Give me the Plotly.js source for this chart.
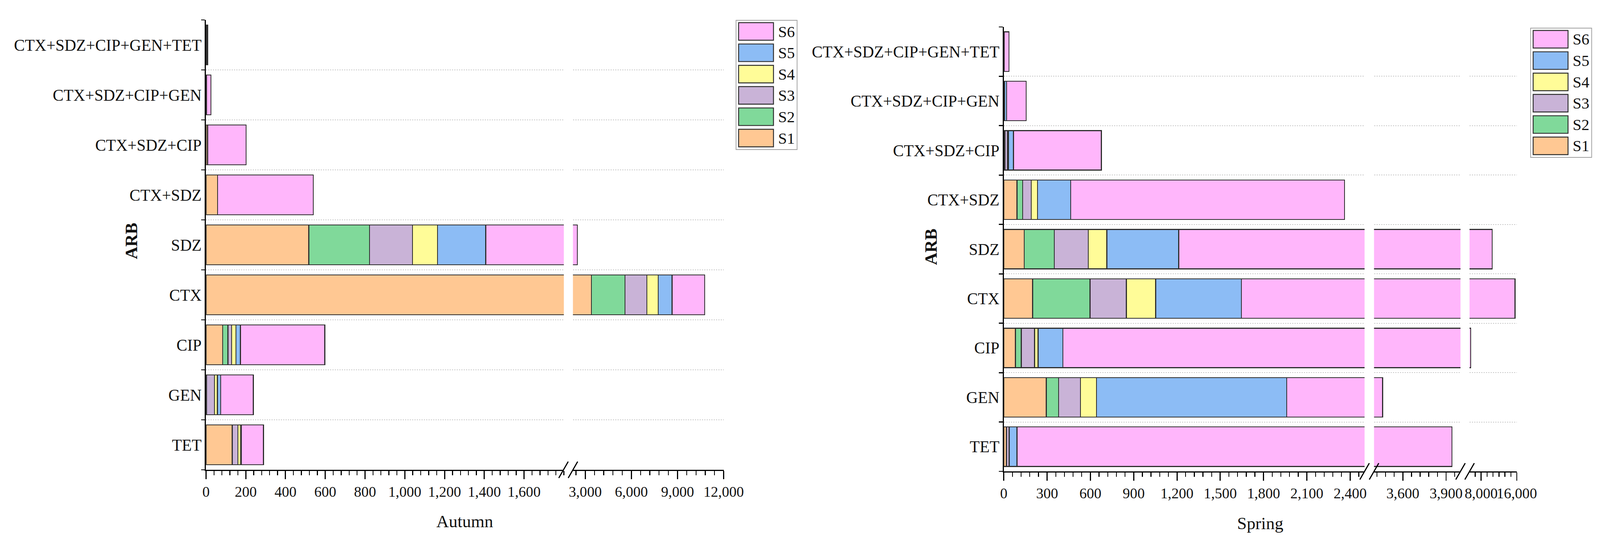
<!DOCTYPE html>
<html>
<head>
<meta charset="utf-8">
<script src="https://cdn.plot.ly/plotly-3.0.1.min.js"></script>
<style>html,body{margin:0;padding:0;background:#fff;overflow:hidden}</style>
</head>
<body>
<div id="chart"></div>
<script>
// reference frame is 4404 x 1393; the figure is stretched over the real viewport
var REF_W = 4404, REF_H = 1393;
var W = document.documentElement.clientWidth || REF_W;
var H = document.documentElement.clientHeight || REF_H;
var s = Math.sqrt((W / REF_W) * (H / REF_H));

// categories, bottom to top
var arb = ['TET', 'GEN', 'CIP', 'CTX', 'SDZ', 'CTX+SDZ', 'CTX+SDZ+CIP',
           'CTX+SDZ+CIP+GEN', 'CTX+SDZ+CIP+GEN+TET'];
var seriesNames = ['S1', 'S2', 'S3', 'S4', 'S5', 'S6'];
var seriesColors = ['#ffc893', '#80d99a', '#c9b3d7', '#fffc98', '#8cbcf5', '#ffb6fb'];

// Autumn
var autumnS1 = [131, 0, 84, 3400, 517, 58, 8, 2, 2];
var autumnS2 = [2, 2, 26, 2180, 306, 0, 0, 0, 0];
var autumnS3 = [28, 40, 19, 1420, 216, 0, 0, 0, 1];
var autumnS4 = [14, 15, 22, 740, 126, 0, 0, 0, 1];
var autumnS5 = [3, 17, 22, 900, 242, 0, 0, 1, 1];
var autumnS6 = [111, 164, 425, 2130, 1073, 482, 194, 22, 3];

// Spring
var springS1 = [17, 294, 80, 200, 141, 91, 4, 2, 1];
var springS2 = [3, 85, 41, 397, 209, 39, 3, 1, 1];
var springS3 = [16, 152, 92, 252, 236, 60, 19, 1, 1];
var springS4 = [2, 111, 24, 203, 128, 43, 6, 1, 0];
var springS5 = [53, 1319, 173, 595, 498, 230, 35, 14, 1];
var springS6 = [3849, 1499, 5240, 13953, 9288, 1898, 609, 136, 32];

var autumn = [autumnS1, autumnS2, autumnS3, autumnS4, autumnS5, autumnS6];
var spring = [springS1, springS2, springS3, springS4, springS5, springS6];

// reference pixel -> paper fraction
function px(x) { return x / REF_W; }
function py(y) { return 1 - y / REF_H; }

var FONT = 'Liberation Serif, Times New Roman, serif';
var traces = [];

function addBars(vals, xaxes, yaxis) {
  xaxes.forEach(function (ax) {
    for (var i = 0; i < 6; i++) {
      traces.push({
        type: 'bar', orientation: 'h',
        y: arb, x: vals[i],
        xaxis: ax, yaxis: yaxis,
        name: seriesNames[i],
        marker: {color: seriesColors[i], line: {color: '#2e2e2e', width: 2.5 * s}},
        showlegend: false,
        hoverinfo: 'x+name'
      });
    }
  });
}
addBars(autumn, ['x', 'x2'], 'y');
addBars(spring, ['x3', 'x4', 'x5'], 'y2');

function xAxis(x0, x1, range, anchor, tickvals, minorDtick) {
  return {
    domain: [px(x0), px(x1)], range: range, anchor: anchor,
    tickmode: 'array', tickvals: tickvals, tickformat: ',', tickangle: 0,
    showline: true, linecolor: '#000', linewidth: 3 * s,
    ticks: 'outside', ticklen: 22 * s, tickwidth: 3 * s, tickcolor: '#000',
    minor: {ticks: 'outside', ticklen: 12 * s, tickwidth: 2.5 * s, tickcolor: '#000',
            tickmode: 'linear', tick0: 0, dtick: minorDtick, showgrid: false},
    showgrid: false, zeroline: false,
    tickfont: {family: FONT, size: 39 * s, color: '#111'},
    ticklabelstandoff: 10 * s,
    automargin: false, fixedrange: true
  };
}

function yAxis(y0, y1, anchor) {
  return {
    domain: [py(y1), py(y0)], anchor: anchor,
    type: 'category', categoryorder: 'array', categoryarray: arb,
    tickson: 'boundaries', ticks: 'outside', ticklen: 10 * s, tickwidth: 3 * s, tickcolor: '#000',
    showline: true, linecolor: '#000', linewidth: 3 * s,
    showgrid: true, gridcolor: '#c8c8c8', gridwidth: 2 * s, griddash: 'dot',
    tickfont: {family: FONT, size: 43 * s, color: '#111'},
    ticklabelstandoff: 14 * s,
    automargin: false, fixedrange: true
  };
}

var shapes = [];
var annotations = [];

// axis break marks
function breakMark(cx, cy) {
  shapes.push({type: 'line', xref: 'paper', yref: 'paper',
    x0: px(cx - 13), y0: py(cy + 21), x1: px(cx + 13), y1: py(cy - 21),
    line: {color: '#000', width: 3 * s}});
}
[[1551, 1203], [1577, 1203], [3756, 1207], [3782, 1207], [4020, 1207], [4045, 1207]]
  .forEach(function (p) { breakMark(p[0], p[1]); });

// legends drawn as boxes so the swatches keep their size
function legendBox(bx, by) {
  shapes.push({type: 'rect', xref: 'paper', yref: 'paper',
    x0: px(bx), x1: px(bx + 168), y0: py(by), y1: py(by + 331),
    line: {color: '#a0a0a0', width: 2 * s}, fillcolor: 'rgba(0,0,0,0)'});
  for (var k = 0; k < 6; k++) {
    var i = 5 - k;
    var top = by + 6 + k * 54.6;
    shapes.push({type: 'rect', xref: 'paper', yref: 'paper',
      x0: px(bx + 7), x1: px(bx + 103), y0: py(top), y1: py(top + 45),
      line: {color: '#2e2e2e', width: 2.5 * s}, fillcolor: seriesColors[i]});
    annotations.push({xref: 'paper', yref: 'paper', x: px(bx + 114), y: py(top + 23),
      xanchor: 'left', yanchor: 'middle', showarrow: false,
      text: seriesNames[i], font: {family: FONT, size: 42 * s, color: '#111'}});
  }
}
legendBox(2026, 52);
legendBox(4213, 72);

function axisTitle(text, x, y, angle, bold) {
  annotations.push({xref: 'paper', yref: 'paper', x: px(x), y: py(y),
    xanchor: 'center', yanchor: 'middle', showarrow: false, textangle: angle,
    text: bold ? '<b>' + text + '</b>' : text,
    font: {family: FONT, size: 46 * s, color: '#111'}});
}
axisTitle('ARB', 361, 617, -90, true);
axisTitle('ARB', 2562, 632, -90, true);
axisTitle('Autumn', 1279, 1335, 0, false);
axisTitle('Spring', 3469, 1340, 0, false);

var layout = {
  width: W, height: H,
  margin: {l: 0, r: 0, t: 0, b: 0},
  paper_bgcolor: '#fff', plot_bgcolor: 'rgba(0,0,0,0)',
  barmode: 'stack', bargap: 0.2,
  showlegend: false,
  font: {family: FONT, color: '#111'},
  xaxis: xAxis(567, 1552, [0, 1800], 'y', [0, 200, 400, 600, 800, 1000, 1200, 1400, 1600], 40),
  xaxis2: xAxis(1577, 1992, [2200, 12000], 'y', [3000, 6000, 9000, 12000], 600),
  xaxis3: xAxis(2763, 3756, [0, 2500], 'y2', [0, 300, 600, 900, 1200, 1500, 1800, 2100, 2400], 60),
  xaxis4: xAxis(3782, 4020, [3400, 4000], 'y2', [3600, 3900], 60),
  xaxis5: xAxis(4045, 4175, [5400, 16000], 'y2', [8000, 16000], 4000 / 3),
  yaxis: yAxis(51, 1203, 'x'),
  yaxis2: yAxis(69, 1207, 'x3'),
  shapes: shapes,
  annotations: annotations
};

Plotly.newPlot('chart', traces, layout, {displayModeBar: false, staticPlot: true});
</script>
</body>
</html>
